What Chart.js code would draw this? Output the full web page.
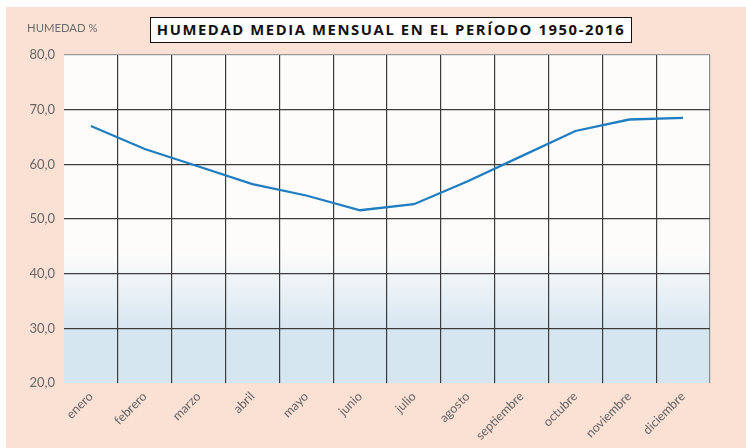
<!DOCTYPE html>
<html>
<head>
<meta charset="utf-8">
<script src="https://cdn.jsdelivr.net/npm/chart.js@4"></script>
<style>
  html, body { margin: 0; padding: 0; background: #fff; }
  #wrap { position: relative; width: 746px; height: 448px; }
  #unit { position: absolute; left: 27px; top: 21px; font: 11.3px Lato, "Open Sans", sans-serif; color: #6b6b6b; }
  #title {
    position: absolute; left: 150px; top: 17px; width: 482px; height: 26px;
    border: 1.5px solid #111; background: #fff; box-sizing: border-box;
    font: bold 14.8px "Open Sans", Lato, sans-serif; letter-spacing: 1.6px;
    text-align: center; line-height: 23px; color: #111;
  }
</style>
</head>
<body>
<div id="wrap">
  <canvas id="c" width="746" height="448"></canvas>
  <div id="unit">HUMEDAD %</div>
  <div id="title">HUMEDAD MEDIA MENSUAL EN EL PERÍODO 1950-2016</div>
</div>
<script>
// Monthly mean humidity, 1950-2016
const MONTHS = ['enero', 'febrero', 'marzo', 'abril', 'mayo', 'junio',
                'julio', 'agosto', 'septiembre', 'octubre', 'noviembre', 'diciembre'];
const HUMIDITY = [67.0, 62.8, 59.6, 56.4, 54.3, 51.6, 52.7, 56.9, 61.5, 66.1, 68.2, 68.5];
const Y_MIN = 20, Y_MAX = 80, Y_STEP = 10;

const PEACH = '#fbe1d4';
const PLOT_WHITE = '#fdfcfb';
const PLOT_BLUE = '#d6e6f0';

const backdrop = {
  id: 'backdrop',
  beforeDraw(chart) {
    const { ctx, chartArea: a, scales } = chart;
    ctx.save();
    ctx.fillStyle = '#fff';
    ctx.fillRect(0, 0, chart.width, chart.height);
    ctx.fillStyle = PEACH;
    ctx.fillRect(6, 7, chart.width - 6, chart.height - 7);
    const g = ctx.createLinearGradient(0, a.top, 0, a.bottom);
    const stop = v => (scales.y.getPixelForValue(v) - a.top) / (a.bottom - a.top);
    g.addColorStop(0, PLOT_WHITE);
    g.addColorStop(stop(44), PLOT_WHITE);
    g.addColorStop(stop(30), PLOT_BLUE);
    g.addColorStop(1, PLOT_BLUE);
    ctx.fillStyle = g;
    ctx.fillRect(a.left, a.top, a.right - a.left, a.bottom - a.top);
    ctx.restore();
  }
};

new Chart(document.getElementById('c'), {
  type: 'line',
  data: {
    labels: MONTHS,
    datasets: [{
      data: HUMIDITY,
      borderColor: '#1f7dc2',
      borderWidth: 2.3,
      pointRadius: 0,
      tension: 0,
      fill: false,
    }],
  },
  options: {
    responsive: false,
    animation: false,
    layout: { padding: { top: 55, right: 36, left: 6, bottom: 0 } },
    plugins: { legend: { display: false }, tooltip: { enabled: false } },
    scales: {
      x: {
        offset: true,
        grid: {
          offset: true,
          drawTicks: false,
          lineWidth: 1.2,
          color: c => (c.index === 0 ? 'rgba(0,0,0,0)' : (c.type === 'scale' ? '#8a8a8a' : '#3c3c3c')),
        },
        border: { display: false },
        ticks: {
          color: '#666',
          font: { family: 'Lato, "Open Sans", sans-serif', size: 12.5 },
          minRotation: 45, maxRotation: 45, padding: 6,
          autoSkip: false,
        },
        afterFit(scale) { scale.height = 65; },
      },
      y: {
        min: Y_MIN, max: Y_MAX,
        grid: {
          drawTicks: false,
          lineWidth: 1.2,
          color: c => (c.tick.value === Y_MIN ? 'rgba(0,0,0,0)' : (c.tick.value === Y_MAX ? '#9a9a9a' : '#3c3c3c')),
        },
        border: { display: false },
        ticks: {
          stepSize: Y_STEP,
          color: '#666',
          padding: 9,
          font: { family: 'Lato, "Open Sans", sans-serif', size: 13 },
          callback: v => v.toFixed(1).replace('.', ','),
        },
        afterFit(scale) { scale.width = 58; },
      },
    },
  },
  plugins: [backdrop],
});
</script>
</body>
</html>
